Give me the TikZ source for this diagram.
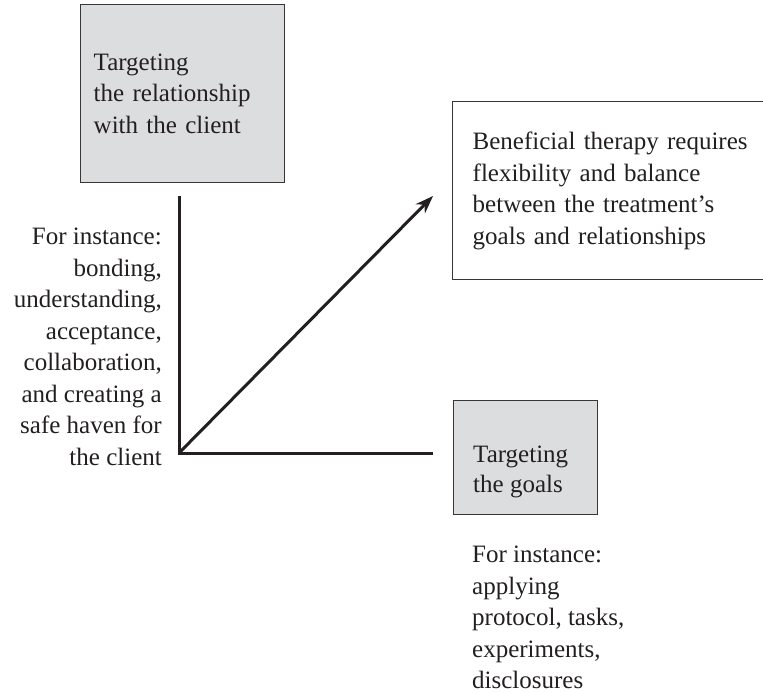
\documentclass[tikz,border=0pt]{standalone}
\usepackage{fontspec}
\setmainfont{Liberation Serif}
\usetikzlibrary{arrows.meta}
\definecolor{boxgray}{HTML}{DCDDDF}
\definecolor{inkline}{HTML}{231F20}
\tikzset{
  textfont/.style={font=\fontsize{25}{31.5}\selectfont, text=inkline},
  plainbox/.style={draw=inkline!90, line width=1.4pt, rectangle, anchor=north west,
    align=left, textfont, inner ysep=0pt},
  greybox/.style={plainbox, fill=boxgray},
  note/.style={textfont, inner sep=0pt},
  axis/.style={draw=inkline, line width=3pt}
}
\begin{document}
\begin{tikzpicture}[x=1pt, y=-1pt]
  \useasboundingbox (0,0) rectangle (763,693);
  % boxes
  \node[greybox, text width=178pt, inner xsep=13pt, minimum height=178pt] (relation)
    at (80,4) {Targeting\\the relationship\\with the client};
  \node[plainbox, text width=290pt, inner xsep=20pt, minimum height=178pt] (balance)
    at (452,101) {Beneficial therapy requires\\flexibility and balance\\between the treatment's\\goals and relationships};
  \node[greybox, minimum width=144pt, minimum height=114pt] (goals) at (453,400) {};
  \node[note, align=left, anchor=north west, font=\fontsize{25}{29.5}\selectfont] (goalstext)
    at ([xshift=20pt, yshift=-46pt]goals.north west) {Targeting\\the goals};
  % notes
  \node[note, align=right, anchor=north east] (relnote) at (162,228)
    {For instance:\\bonding,\\understanding,\\acceptance,\\collaboration,\\and creating a\\safe haven for\\the client};
  \node[note, align=left, anchor=north west] (goalnote) at (472,546)
    {For instance:\\applying\\protocol, tasks,\\experiments,\\disclosures};
  % axes
  \coordinate (origin) at (179,453);
  \coordinate (reltip) at (179,196);
  \coordinate (goaltip) at (433,453);
  \coordinate (balancetip) at (433,196);
  \begin{scope}[axis]
    \draw (reltip) -- (origin) -- (goaltip);
    \draw[-{Stealth[length=18pt, width=13pt]}] (origin) -- (balancetip);
  \end{scope}
\end{tikzpicture}
\end{document}
